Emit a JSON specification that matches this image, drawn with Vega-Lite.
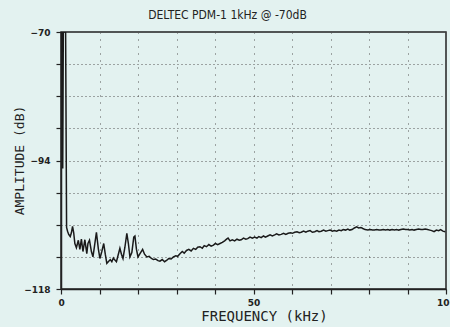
{
 "$schema": "https://vega.github.io/schema/vega-lite/v6.json",
 "width": 385, "height": 257,
 "autosize": {"type": "none"},
 "padding": {"left": 61, "top": 32, "right": 4, "bottom": 38},
 "background": "#e3f2f0",
 "title": {"text": "DELTEC PDM-1 1kHz @ -70dB", "font": "DejaVu Sans Condensed", "fontSize": 12, "fontWeight": "normal", "color": "#222222", "dx": -26, "offset": 6, "anchor": "middle"},
 "config": {"view": {"stroke": "#222222", "strokeWidth": 1.5}},
 "data": {"values": [
{"f":0,"a":-70},{"f":0.3,"a":-70},{"f":0.45,"a":-95.5},{"f":0.6,"a":-70},{"f":0.9,"a":-70},{"f":1.2,"a":-70},{"f":1.45,"a":-106.5},{"f":1.7,"a":-107.2},{"f":2.0,"a":-107.8},{"f":2.4,"a":-108.2},{"f":2.7,"a":-107.5},{"f":3.0,"a":-106.3},{"f":3.3,"a":-107.5},{"f":3.6,"a":-109.5},{"f":4.0,"a":-110.3},{"f":4.5,"a":-108.9},{"f":4.9,"a":-110.6},{"f":5.3,"a":-108.7},{"f":5.7,"a":-111.0},{"f":6.2,"a":-108.8},{"f":6.7,"a":-111.4},{"f":7.0,"a":-109.5},{"f":7.4,"a":-108.9},{"f":7.9,"a":-111.0},{"f":8.3,"a":-112.0},{"f":8.7,"a":-110.0},{"f":9.2,"a":-107.4},{"f":9.7,"a":-110.5},{"f":10.1,"a":-112.3},{"f":10.6,"a":-111.0},{"f":11.1,"a":-109.5},{"f":11.5,"a":-111.5},{"f":11.9,"a":-113.2},{"f":12.4,"a":-112.8},{"f":12.8,"a":-112.5},{"f":13.2,"a":-112.9},{"f":13.6,"a":-112.2},{"f":14.0,"a":-112.6},{"f":14.4,"a":-112.9},{"f":14.8,"a":-111.8},{"f":15.3,"a":-110.4},{"f":15.7,"a":-111.5},{"f":16.1,"a":-112.3},{"f":16.6,"a":-110.2},{"f":17.1,"a":-107.6},{"f":17.5,"a":-109.5},{"f":17.9,"a":-112.0},{"f":18.4,"a":-111.2},{"f":18.9,"a":-108.3},{"f":19.2,"a":-108.1},{"f":19.6,"a":-110.6},{"f":20.0,"a":-112.0},{"f":20.6,"a":-111.3},{"f":21.2,"a":-110.6},{"f":21.7,"a":-111.5},{"f":22.3,"a":-112.0},{"f":22.9,"a":-111.9},{"f":23.5,"a":-112.3},{"f":24.0,"a":-112.5},{"f":24.6,"a":-112.4},{"f":25.2,"a":-112.7},{"f":25.7,"a":-112.8},{"f":26.3,"a":-112.5},{"f":26.9,"a":-112.9},{"f":27.5,"a":-112.6},{"f":28.0,"a":-112.3},{"f":28.6,"a":-112.4},{"f":29.2,"a":-112.0},{"f":29.8,"a":-111.8},{"f":30.3,"a":-111.9},{"f":30.9,"a":-111.4},{"f":31.5,"a":-111.0},{"f":32.0,"a":-111.3},{"f":32.6,"a":-110.8},{"f":33.2,"a":-110.6},{"f":33.8,"a":-110.9},{"f":34.4,"a":-110.4},{"f":35.0,"a":-110.6},{"f":35.5,"a":-110.2},{"f":36.1,"a":-110.1},{"f":36.7,"a":-110.4},{"f":37.2,"a":-109.9},{"f":37.8,"a":-110.1},{"f":38.4,"a":-109.7},{"f":39.0,"a":-110.0},{"f":39.6,"a":-109.8},{"f":40.1,"a":-109.5},{"f":40.7,"a":-109.7},{"f":41.3,"a":-109.5},{"f":41.9,"a":-109.3},{"f":42.5,"a":-109.0},{"f":43.0,"a":-108.7},{"f":43.4,"a":-108.5},{"f":43.9,"a":-109.0},{"f":44.5,"a":-108.8},{"f":45.1,"a":-109.0},{"f":45.7,"a":-108.7},{"f":46.3,"a":-108.9},{"f":46.8,"a":-108.8},{"f":47.4,"a":-108.5},{"f":48.0,"a":-108.7},{"f":48.5,"a":-108.6},{"f":49.1,"a":-108.3},{"f":49.7,"a":-108.5},{"f":50.3,"a":-108.3},{"f":50.9,"a":-108.5},{"f":51.4,"a":-108.2},{"f":52.0,"a":-108.4},{"f":52.6,"a":-108.1},{"f":53.1,"a":-108.3},{"f":53.7,"a":-108.1},{"f":54.3,"a":-107.9},{"f":54.9,"a":-108.1},{"f":55.5,"a":-107.9},{"f":56.0,"a":-107.7},{"f":56.6,"a":-107.9},{"f":57.2,"a":-107.8},{"f":57.8,"a":-107.6},{"f":58.4,"a":-107.8},{"f":59.0,"a":-107.6},{"f":59.6,"a":-107.5},{"f":60.1,"a":-107.6},{"f":60.7,"a":-107.4},{"f":61.3,"a":-107.3},{"f":61.9,"a":-107.5},{"f":62.4,"a":-107.4},{"f":63.0,"a":-107.2},{"f":63.6,"a":-107.4},{"f":64.1,"a":-107.2},{"f":64.7,"a":-107.1},{"f":65.3,"a":-107.4},{"f":65.9,"a":-107.3},{"f":66.5,"a":-107.1},{"f":67.0,"a":-107.3},{"f":67.6,"a":-107.2},{"f":68.2,"a":-107.0},{"f":68.8,"a":-107.2},{"f":69.3,"a":-107.1},{"f":69.9,"a":-107.0},{"f":70.5,"a":-107.2},{"f":71.0,"a":-107.1},{"f":71.6,"a":-107.2},{"f":72.2,"a":-107.0},{"f":72.8,"a":-107.1},{"f":73.3,"a":-106.9},{"f":73.9,"a":-107.0},{"f":74.5,"a":-106.8},{"f":75.0,"a":-107.0},{"f":75.6,"a":-106.9},{"f":76.2,"a":-106.6},{"f":76.8,"a":-106.4},{"f":77.3,"a":-106.6},{"f":77.9,"a":-106.5},{"f":78.4,"a":-106.7},{"f":79.0,"a":-106.9},{"f":79.7,"a":-107.0},{"f":80.3,"a":-106.9},{"f":80.9,"a":-107.0},{"f":81.4,"a":-107.0},{"f":82.0,"a":-106.9},{"f":82.6,"a":-107.0},{"f":83.1,"a":-107.0},{"f":83.7,"a":-106.9},{"f":84.3,"a":-107.0},{"f":84.9,"a":-106.9},{"f":85.4,"a":-107.0},{"f":86.0,"a":-106.9},{"f":86.6,"a":-107.0},{"f":87.2,"a":-106.9},{"f":87.7,"a":-107.0},{"f":88.3,"a":-106.9},{"f":88.9,"a":-106.8},{"f":89.5,"a":-106.9},{"f":90.0,"a":-106.9},{"f":90.6,"a":-107.0},{"f":91.2,"a":-106.9},{"f":91.7,"a":-107.0},{"f":92.3,"a":-106.9},{"f":92.9,"a":-106.8},{"f":93.5,"a":-106.9},{"f":94.0,"a":-106.9},{"f":94.6,"a":-106.8},{"f":95.2,"a":-106.9},{"f":95.8,"a":-107.0},{"f":96.3,"a":-107.1},{"f":96.9,"a":-107.3},{"f":97.5,"a":-107.0},{"f":98.1,"a":-107.1},{"f":98.6,"a":-106.9},{"f":99.2,"a":-107.2},{"f":99.8,"a":-107.3}
 ]},
 "mark": {"type": "line", "color": "#1a1a1a", "strokeWidth": 1.5, "clip": true},
 "encoding": {
  "x": {"field": "f", "type": "quantitative",
   "scale": {"domain": [0, 100], "nice": false, "zero": false},
   "axis": {"values": [0,10,20,30,40,50,60,70,80,90,100],
    "labelExpr": "datum.value % 50 == 0 ? datum.label : ''",
    "title": "FREQUENCY  (kHz)", "titleFont": "DejaVu Sans Mono", "titleFontSize": 14, "titleFontWeight": "normal", "titleColor": "#222222",
    "titleX": 203, "titleY": 20,
    "labelFont": "DejaVu Sans", "labelFontSize": 9, "labelFontWeight": "bold", "labelColor": "#222222", "labelPadding": 4, "labelFlush": false,
    "domainColor": "#222222", "domainWidth": 1.5, "tickColor": "#222222", "tickSize": 5, "tickWidth": 1.2,
    "grid": true, "gridColor": "#555555", "gridDash": [1, 6], "gridWidth": 1}},
  "y": {"field": "a", "type": "quantitative",
   "scale": {"domain": [-118, -70], "nice": false, "zero": false},
   "axis": {"values": [-118,-112,-106,-100,-94,-88,-82,-76,-70],
    "labelExpr": "datum.value == -118 || datum.value == -94 || datum.value == -70 ? datum.label : ''",
    "title": "AMPLITUDE  (dB)", "titleFont": "DejaVu Sans Mono", "titleFontSize": 13, "titleFontWeight": "normal", "titleColor": "#222222",
    "titleX": -35, "titleY": 128,
    "labelFont": "DejaVu Sans", "labelFontSize": 9, "labelFontWeight": "bold", "labelColor": "#222222", "labelPadding": 6, "labelFlush": false,
    "domainColor": "#222222", "domainWidth": 1.5, "tickColor": "#222222", "tickSize": 5, "tickWidth": 1.2,
    "grid": true, "gridColor": "#555555", "gridDash": [1, 3], "gridWidth": 1}}
 }
}
